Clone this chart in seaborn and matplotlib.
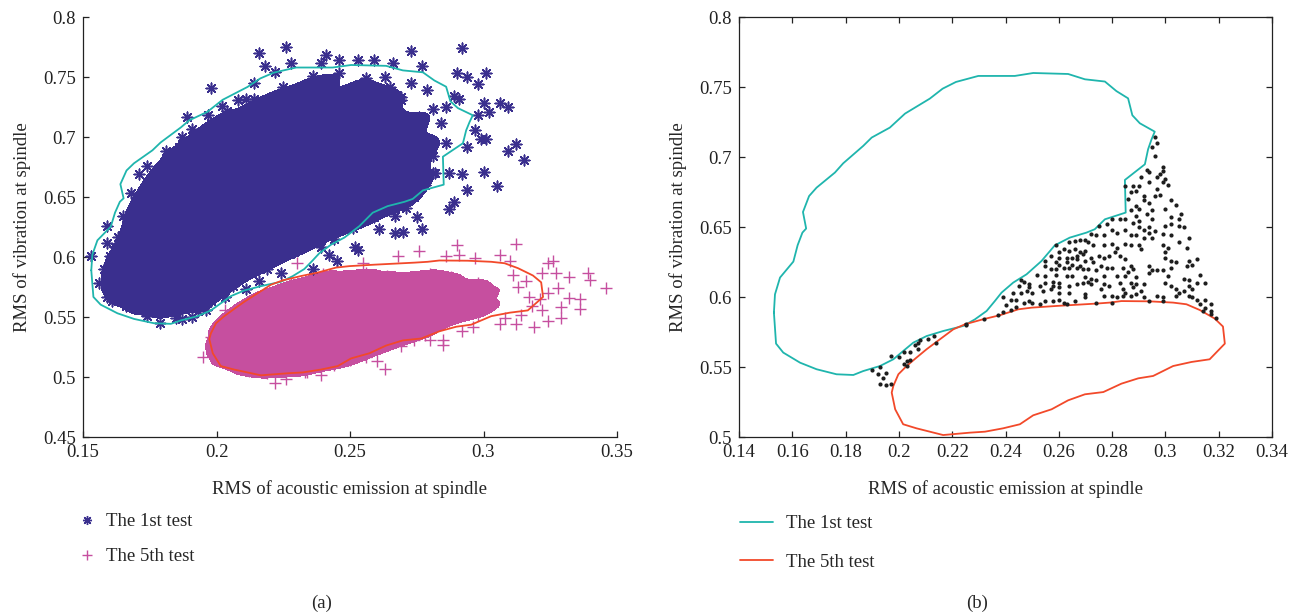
import numpy as np
import matplotlib
matplotlib.use("Agg")
import matplotlib.pyplot as plt
from matplotlib.colors import ListedColormap
from matplotlib.lines import Line2D
import seaborn as sns

sns.set_style("ticks")
plt.rcParams['font.family'] = ['Liberation Serif', 'DejaVu Serif']

BLUE = "#3a2f8e"
PINK = "#c64f9f"
CYAN = "#1fb5ad"
RED = "#f2492a"
DOT = "#1e1e1e"

# ---------------- data ----------------
# contour of the 1st test (closed polygon)
contour_1st = [
    (0.1531, 0.5889), (0.1535, 0.6019), (0.1554, 0.6139), (0.1604, 0.6253), (0.1620, 0.6370),
    (0.1638, 0.6460), (0.1652, 0.6489), (0.1640, 0.6607), (0.1663, 0.6721), (0.1691, 0.6781),
    (0.1760, 0.6889), (0.1791, 0.6955), (0.1866, 0.7079), (0.1898, 0.7139), (0.1966, 0.7210),
    (0.2023, 0.7310), (0.2116, 0.7417), (0.2164, 0.7488), (0.2214, 0.7536), (0.2298, 0.7579),
    (0.2435, 0.7579), (0.2504, 0.7600), (0.2635, 0.7593), (0.2698, 0.7555), (0.2773, 0.7539),
    (0.2816, 0.7471), (0.2860, 0.7419), (0.2876, 0.7298), (0.2904, 0.7241), (0.2960, 0.7181),
    (0.2948, 0.7126), (0.2935, 0.7055), (0.2923, 0.6948), (0.2848, 0.6836), (0.2851, 0.6603),
    (0.2773, 0.6555), (0.2735, 0.6484), (0.2704, 0.6460), (0.2641, 0.6424), (0.2585, 0.6369),
    (0.2535, 0.6257), (0.2479, 0.6162), (0.2429, 0.6103), (0.2385, 0.6031), (0.2360, 0.5971),
    (0.2329, 0.5900), (0.2285, 0.5840), (0.2241, 0.5793), (0.2166, 0.5757), (0.2104, 0.5721),
    (0.2054, 0.5674), (0.2016, 0.5614), (0.1979, 0.5555), (0.1929, 0.5507), (0.1866, 0.5471),
    (0.1829, 0.5443), (0.1766, 0.5448), (0.1691, 0.5484), (0.1629, 0.5531), (0.1566, 0.5603),
    (0.1539, 0.5667), (0.1531, 0.5889),
]
# contour of the 5th test (closed polygon)
contour_5th = [
    (0.2248, 0.5805), (0.2204, 0.5769), (0.2154, 0.5698), (0.2104, 0.5627), (0.2066, 0.5567),
    (0.2029, 0.5507), (0.1998, 0.5448), (0.1979, 0.5364), (0.1973, 0.5317), (0.1986, 0.5198),
    (0.2016, 0.5091), (0.2066, 0.5062), (0.2166, 0.5014), (0.2266, 0.5031), (0.2323, 0.5038),
    (0.2391, 0.5062), (0.2454, 0.5091), (0.2504, 0.5155), (0.2573, 0.5198), (0.2635, 0.5262),
    (0.2698, 0.5305), (0.2767, 0.5321), (0.2835, 0.5381), (0.2898, 0.5419), (0.2954, 0.5436),
    (0.3029, 0.5507), (0.3098, 0.5536), (0.3166, 0.5555), (0.3223, 0.5667), (0.3216, 0.5789),
    (0.3185, 0.5846), (0.3129, 0.5907), (0.3079, 0.5948), (0.3029, 0.5960), (0.2941, 0.5969),
    (0.2835, 0.5971), (0.2791, 0.5960), (0.2741, 0.5953), (0.2591, 0.5936), (0.2498, 0.5924),
    (0.2448, 0.5912), (0.2379, 0.5870), (0.2316, 0.5841), (0.2248, 0.5805),
]

# 1st test samples (estimated), sparse outskirts of the cloud
test1_sparse = [
    (0.216, 0.770), (0.226, 0.775), (0.198, 0.741), (0.189, 0.717), (0.197, 0.718), (0.202, 0.726),
    (0.228, 0.762), (0.218, 0.759), (0.222, 0.754), (0.187, 0.700), (0.191, 0.707), (0.181, 0.688),
    (0.174, 0.676), (0.171, 0.669), (0.168, 0.653), (0.171, 0.638), (0.165, 0.634), (0.159, 0.626),
    (0.163, 0.617), (0.208, 0.731), (0.211, 0.732), (0.214, 0.745), (0.239, 0.762), (0.241, 0.768),
    (0.292, 0.774), (0.273, 0.772), (0.277, 0.759), (0.290, 0.753), (0.294, 0.750), (0.301, 0.753),
    (0.298, 0.744), (0.289, 0.734), (0.291, 0.732), (0.286, 0.725), (0.300, 0.728), (0.306, 0.728),
    (0.309, 0.725), (0.302, 0.721), (0.298, 0.718), (0.297, 0.706), (0.299, 0.698), (0.301, 0.698),
    (0.294, 0.692), (0.312, 0.694), (0.309, 0.688), (0.315, 0.681), (0.287, 0.670), (0.292, 0.669),
    (0.300, 0.671), (0.305, 0.659), (0.294, 0.656), (0.289, 0.646), (0.287, 0.640), (0.275, 0.633),
    (0.267, 0.634), (0.277, 0.623), (0.270, 0.621), (0.267, 0.620), (0.261, 0.623), (0.251, 0.624),
    (0.254, 0.631), (0.244, 0.615), (0.239, 0.608), (0.252, 0.608),
    (0.273, 0.745), (0.279, 0.739), (0.281, 0.723), (0.284, 0.712), (0.286, 0.695), (0.281, 0.684),
    (0.282, 0.670), (0.275, 0.659), (0.269, 0.653), (0.263, 0.648), (0.256, 0.640), (0.246, 0.631),
    (0.241, 0.623), (0.235, 0.615), (0.275, 0.698), (0.269, 0.676), (0.276, 0.709), (0.269, 0.731),
    (0.263, 0.750), (0.253, 0.764), (0.259, 0.764), (0.266, 0.762), (0.246, 0.764),
    (0.153, 0.601), (0.156, 0.578), (0.159, 0.567), (0.161, 0.563), (0.166, 0.559), (0.171, 0.558),
    (0.174, 0.551), (0.179, 0.545), (0.185, 0.549), (0.191, 0.550), (0.187, 0.548), (0.158, 0.590),
    (0.160, 0.601), (0.159, 0.612), (0.162, 0.608), (0.203, 0.567), (0.211, 0.573), (0.216, 0.580),
    (0.224, 0.587), (0.242, 0.602), (0.196, 0.556), (0.206, 0.576), (0.214, 0.590), (0.221, 0.598),
    (0.245, 0.597), (0.236, 0.590), (0.253, 0.606),
]
# 1st test samples (estimated), saturated core of the cloud
test1_dense = [
    (0.172, 0.556), (0.179, 0.553), (0.185, 0.558), (0.193, 0.555),
    (0.163, 0.564), (0.170, 0.561), (0.176, 0.566), (0.184, 0.562), (0.189, 0.566), (0.198, 0.563),
    (0.160, 0.573), (0.167, 0.570), (0.174, 0.575), (0.181, 0.571), (0.188, 0.574), (0.195, 0.571), (0.204, 0.575),
    (0.159, 0.582), (0.166, 0.579), (0.172, 0.584), (0.180, 0.581), (0.186, 0.578), (0.194, 0.584),
    (0.201, 0.579), (0.209, 0.583),
    (0.161, 0.592), (0.168, 0.588), (0.175, 0.593), (0.183, 0.590), (0.189, 0.587), (0.197, 0.592),
    (0.204, 0.589), (0.212, 0.593), (0.219, 0.590),
    (0.162, 0.600), (0.170, 0.603), (0.177, 0.598), (0.184, 0.602), (0.192, 0.599), (0.198, 0.603),
    (0.207, 0.600), (0.214, 0.597), (0.222, 0.602), (0.229, 0.604),
    (0.164, 0.611), (0.170, 0.608), (0.178, 0.613), (0.185, 0.610), (0.193, 0.607), (0.201, 0.612),
    (0.208, 0.609), (0.217, 0.613), (0.224, 0.609), (0.231, 0.612), (0.238, 0.613),
    (0.166, 0.622), (0.174, 0.618), (0.180, 0.623), (0.188, 0.620), (0.195, 0.617), (0.202, 0.622),
    (0.211, 0.619), (0.218, 0.623), (0.227, 0.620), (0.234, 0.617), (0.241, 0.622), (0.248, 0.624),
    (0.167, 0.632), (0.176, 0.628), (0.182, 0.633), (0.190, 0.629), (0.198, 0.627), (0.205, 0.632),
    (0.213, 0.628), (0.221, 0.633), (0.230, 0.630), (0.237, 0.627), (0.245, 0.632), (0.252, 0.628), (0.259, 0.633),
    (0.169, 0.642), (0.178, 0.638), (0.185, 0.643), (0.193, 0.640), (0.199, 0.637), (0.208, 0.642),
    (0.216, 0.638), (0.225, 0.643), (0.232, 0.639), (0.240, 0.637), (0.248, 0.642), (0.257, 0.639),
    (0.264, 0.643), (0.271, 0.641),
    (0.172, 0.652), (0.179, 0.648), (0.188, 0.653), (0.195, 0.649), (0.204, 0.647), (0.211, 0.652),
    (0.219, 0.648), (0.228, 0.653), (0.235, 0.650), (0.243, 0.647), (0.252, 0.652), (0.259, 0.648),
    (0.266, 0.653), (0.274, 0.650),
    (0.174, 0.662), (0.183, 0.658), (0.190, 0.663), (0.199, 0.660), (0.206, 0.657), (0.215, 0.662),
    (0.222, 0.658), (0.231, 0.663), (0.238, 0.659), (0.247, 0.657), (0.254, 0.662), (0.263, 0.658),
    (0.270, 0.663), (0.278, 0.660),
    (0.178, 0.672), (0.185, 0.668), (0.194, 0.673), (0.201, 0.669), (0.210, 0.667), (0.217, 0.672),
    (0.226, 0.668), (0.233, 0.673), (0.242, 0.670), (0.249, 0.667), (0.258, 0.672), (0.265, 0.668),
    (0.274, 0.673), (0.281, 0.670),
    (0.181, 0.682), (0.190, 0.678), (0.197, 0.683), (0.206, 0.680), (0.213, 0.677), (0.222, 0.682),
    (0.229, 0.678), (0.238, 0.683), (0.245, 0.679), (0.254, 0.677), (0.261, 0.682), (0.270, 0.678), (0.277, 0.683),
    (0.186, 0.692), (0.193, 0.688), (0.202, 0.693), (0.209, 0.689), (0.218, 0.687), (0.225, 0.692),
    (0.234, 0.688), (0.241, 0.693), (0.250, 0.690), (0.257, 0.687), (0.266, 0.692), (0.273, 0.688), (0.281, 0.693),
    (0.192, 0.702), (0.200, 0.698), (0.207, 0.703), (0.216, 0.700), (0.223, 0.697), (0.232, 0.702),
    (0.239, 0.698), (0.248, 0.703), (0.255, 0.699), (0.264, 0.697), (0.271, 0.702), (0.279, 0.698),
    (0.198, 0.712), (0.205, 0.708), (0.214, 0.713), (0.221, 0.709), (0.230, 0.707), (0.237, 0.712),
    (0.246, 0.708), (0.253, 0.713), (0.262, 0.710), (0.269, 0.707), (0.277, 0.712),
    (0.204, 0.722), (0.213, 0.718), (0.220, 0.723), (0.229, 0.719), (0.236, 0.717), (0.245, 0.722),
    (0.252, 0.718), (0.261, 0.723), (0.268, 0.719), (0.276, 0.717),
    (0.214, 0.732), (0.221, 0.728), (0.230, 0.733), (0.237, 0.729), (0.246, 0.727), (0.253, 0.732),
    (0.262, 0.728), (0.269, 0.733),
    (0.225, 0.742), (0.234, 0.738), (0.241, 0.743), (0.250, 0.739), (0.257, 0.737), (0.265, 0.742),
    (0.236, 0.751), (0.246, 0.753), (0.256, 0.749),
]

# 5th test samples (estimated), sparse outskirts
test5_sparse = [
    (0.195, 0.517), (0.198, 0.533), (0.203, 0.556), (0.209, 0.558), (0.222, 0.495), (0.226, 0.498),
    (0.199, 0.526), (0.201, 0.515), (0.230, 0.595), (0.290, 0.610), (0.312, 0.611), (0.276, 0.605),
    (0.268, 0.601), (0.286, 0.601), (0.291, 0.602), (0.297, 0.599), (0.306, 0.602), (0.310, 0.597),
    (0.324, 0.595), (0.326, 0.597), (0.322, 0.587), (0.327, 0.587), (0.332, 0.583), (0.339, 0.587),
    (0.340, 0.581), (0.346, 0.574), (0.328, 0.574), (0.332, 0.566), (0.336, 0.565), (0.336, 0.557),
    (0.329, 0.558), (0.329, 0.549), (0.324, 0.547), (0.322, 0.556), (0.319, 0.542), (0.312, 0.544),
    (0.306, 0.544), (0.296, 0.542), (0.292, 0.538), (0.285, 0.531), (0.285, 0.527), (0.280, 0.531),
    (0.274, 0.531), (0.269, 0.526), (0.263, 0.507), (0.260, 0.513), (0.256, 0.517), (0.244, 0.515),
    (0.239, 0.502), (0.234, 0.504), (0.255, 0.595), (0.317, 0.567), (0.321, 0.565), (0.324, 0.570),
    (0.313, 0.575), (0.316, 0.580), (0.311, 0.585), (0.318, 0.559), (0.314, 0.552), (0.308, 0.549),
]
# 5th test samples (estimated), saturated core
test5_dense = [
    (0.212, 0.505), (0.219, 0.503), (0.226, 0.506), (0.233, 0.504),
    (0.203, 0.513), (0.209, 0.510), (0.216, 0.514), (0.223, 0.511), (0.230, 0.509), (0.237, 0.513),
    (0.244, 0.510), (0.250, 0.514),
    (0.201, 0.521), (0.207, 0.518), (0.214, 0.523), (0.221, 0.520), (0.228, 0.517), (0.235, 0.522),
    (0.242, 0.519), (0.249, 0.522), (0.256, 0.520),
    (0.200, 0.529), (0.206, 0.526), (0.213, 0.531), (0.220, 0.528), (0.227, 0.525), (0.234, 0.530),
    (0.241, 0.527), (0.248, 0.531), (0.255, 0.528), (0.262, 0.525), (0.268, 0.530),
    (0.201, 0.538), (0.208, 0.535), (0.215, 0.539), (0.222, 0.536), (0.229, 0.533), (0.236, 0.538),
    (0.243, 0.535), (0.250, 0.539), (0.257, 0.536), (0.264, 0.533), (0.271, 0.538), (0.278, 0.535),
    (0.203, 0.546), (0.210, 0.543), (0.217, 0.547), (0.224, 0.544), (0.231, 0.541), (0.238, 0.546),
    (0.245, 0.543), (0.252, 0.547), (0.259, 0.544), (0.266, 0.541), (0.273, 0.546), (0.280, 0.543), (0.287, 0.547),
    (0.207, 0.554), (0.214, 0.551), (0.221, 0.555), (0.228, 0.552), (0.235, 0.549), (0.242, 0.554),
    (0.249, 0.551), (0.256, 0.555), (0.263, 0.552), (0.270, 0.549), (0.277, 0.554), (0.284, 0.551),
    (0.291, 0.555), (0.298, 0.552),
    (0.212, 0.562), (0.219, 0.559), (0.226, 0.563), (0.233, 0.560), (0.240, 0.557), (0.247, 0.562),
    (0.254, 0.559), (0.261, 0.563), (0.268, 0.560), (0.275, 0.557), (0.282, 0.562), (0.289, 0.559),
    (0.296, 0.563), (0.303, 0.560),
    (0.218, 0.570), (0.225, 0.567), (0.232, 0.571), (0.239, 0.568), (0.246, 0.565), (0.253, 0.570),
    (0.260, 0.567), (0.267, 0.571), (0.274, 0.568), (0.281, 0.565), (0.288, 0.570), (0.295, 0.567),
    (0.302, 0.571),
    (0.228, 0.578), (0.235, 0.575), (0.242, 0.579), (0.249, 0.576), (0.256, 0.573), (0.263, 0.578),
    (0.270, 0.575), (0.277, 0.579), (0.284, 0.576), (0.291, 0.573), (0.298, 0.578),
    (0.240, 0.586), (0.248, 0.583), (0.256, 0.587), (0.264, 0.584), (0.272, 0.582), (0.280, 0.586),
    (0.288, 0.583),
]

# samples of panel (b) lying outside both contours
gap_points = [
    (0.296, 0.714), (0.297, 0.710), (0.295, 0.707), (0.296, 0.701), (0.299, 0.693), (0.299, 0.690),
    (0.298, 0.688), (0.293, 0.691), (0.294, 0.689), (0.297, 0.686), (0.300, 0.684), (0.299, 0.682),
    (0.301, 0.680), (0.294, 0.682), (0.291, 0.686), (0.290, 0.679), (0.288, 0.679), (0.285, 0.679),
    (0.289, 0.676), (0.287, 0.675), (0.297, 0.677), (0.298, 0.673), (0.296, 0.672), (0.302, 0.669),
    (0.286, 0.670), (0.292, 0.672), (0.292, 0.669), (0.294, 0.667), (0.289, 0.665), (0.287, 0.662),
    (0.290, 0.663), (0.295, 0.662), (0.293, 0.659), (0.289, 0.658), (0.304, 0.666), (0.300, 0.663),
    (0.302, 0.657), (0.305, 0.656), (0.306, 0.659), (0.295, 0.656), (0.290, 0.654), (0.288, 0.653),
    (0.285, 0.656), (0.283, 0.656), (0.280, 0.656), (0.278, 0.652), (0.280, 0.648), (0.282, 0.646),
    (0.285, 0.648), (0.290, 0.650), (0.292, 0.648), (0.294, 0.650), (0.294, 0.646), (0.296, 0.647),
    (0.300, 0.651), (0.302, 0.652), (0.305, 0.651), (0.307, 0.650), (0.299, 0.645), (0.302, 0.644),
    (0.292, 0.642), (0.295, 0.642), (0.287, 0.644), (0.289, 0.644), (0.277, 0.644), (0.277, 0.637),
    (0.280, 0.638), (0.282, 0.635), (0.285, 0.638), (0.287, 0.637), (0.290, 0.637), (0.291, 0.634),
    (0.299, 0.637), (0.301, 0.635), (0.305, 0.639), (0.308, 0.635), (0.309, 0.642), (0.277, 0.628),
    (0.279, 0.629), (0.281, 0.632), (0.283, 0.629), (0.285, 0.627), (0.300, 0.632), (0.300, 0.628),
    (0.302, 0.626), (0.304, 0.625), (0.309, 0.626), (0.310, 0.623), (0.312, 0.627), (0.276, 0.622),
    (0.278, 0.621), (0.280, 0.621), (0.284, 0.621), (0.287, 0.622), (0.288, 0.620), (0.294, 0.622),
    (0.295, 0.619), (0.299, 0.619), (0.302, 0.621), (0.308, 0.622), (0.313, 0.616), (0.277, 0.615),
    (0.282, 0.615), (0.285, 0.615), (0.286, 0.618), (0.289, 0.614), (0.294, 0.617), (0.297, 0.619),
    (0.301, 0.615), (0.307, 0.613), (0.309, 0.612), (0.312, 0.610), (0.315, 0.610), (0.277, 0.609),
    (0.279, 0.608), (0.283, 0.610), (0.287, 0.610), (0.289, 0.609), (0.292, 0.609), (0.300, 0.610),
    (0.302, 0.608), (0.309, 0.608), (0.310, 0.606), (0.276, 0.606), (0.284, 0.606), (0.285, 0.603),
    (0.288, 0.607), (0.291, 0.604), (0.304, 0.606), (0.305, 0.603), (0.307, 0.604), (0.277, 0.601),
    (0.280, 0.601), (0.282, 0.600), (0.284, 0.601), (0.287, 0.601), (0.289, 0.602), (0.292, 0.600),
    (0.297, 0.601), (0.299, 0.600), (0.304, 0.601), (0.309, 0.601), (0.310, 0.600), (0.312, 0.598),
    (0.315, 0.598), (0.280, 0.596), (0.294, 0.597), (0.299, 0.597), (0.313, 0.595), (0.317, 0.595),
    (0.315, 0.592), (0.317, 0.590), (0.317, 0.588), (0.319, 0.585), (0.314, 0.590),
    (0.275, 0.651), (0.272, 0.645), (0.274, 0.644), (0.270, 0.641), (0.268, 0.641), (0.266, 0.640),
    (0.264, 0.639), (0.271, 0.639), (0.273, 0.637), (0.259, 0.637), (0.262, 0.634), (0.260, 0.632),
    (0.264, 0.633), (0.266, 0.634), (0.268, 0.632), (0.269, 0.631), (0.270, 0.633), (0.272, 0.628),
    (0.275, 0.629), (0.257, 0.629), (0.260, 0.628), (0.263, 0.628), (0.265, 0.628), (0.267, 0.629),
    (0.267, 0.627), (0.270, 0.626), (0.255, 0.626), (0.259, 0.625), (0.260, 0.623), (0.263, 0.625),
    (0.265, 0.623), (0.268, 0.622), (0.273, 0.625), (0.255, 0.622), (0.257, 0.620), (0.259, 0.620),
    (0.262, 0.621), (0.264, 0.621), (0.267, 0.621), (0.269, 0.620), (0.271, 0.620), (0.274, 0.619),
    (0.252, 0.616), (0.255, 0.615), (0.259, 0.616), (0.263, 0.615), (0.265, 0.615), (0.270, 0.614),
    (0.272, 0.613), (0.274, 0.612), (0.246, 0.612), (0.247, 0.611), (0.249, 0.609), (0.245, 0.608),
    (0.249, 0.607), (0.253, 0.608), (0.255, 0.610), (0.258, 0.611), (0.260, 0.610), (0.258, 0.608),
    (0.260, 0.607), (0.264, 0.608), (0.267, 0.609), (0.269, 0.610), (0.271, 0.611), (0.272, 0.609),
    (0.243, 0.603), (0.246, 0.603), (0.248, 0.604), (0.250, 0.603), (0.254, 0.604), (0.257, 0.606),
    (0.260, 0.603), (0.264, 0.603), (0.270, 0.602), (0.239, 0.600), (0.242, 0.598), (0.244, 0.598),
    (0.247, 0.596), (0.249, 0.597), (0.250, 0.596), (0.253, 0.595), (0.255, 0.597), (0.258, 0.597),
    (0.260, 0.598), (0.262, 0.596), (0.263, 0.595), (0.266, 0.597), (0.270, 0.600), (0.274, 0.596),
    (0.240, 0.594), (0.242, 0.591), (0.244, 0.593), (0.239, 0.589), (0.237, 0.587), (0.232, 0.584),
    (0.225, 0.581),
    (0.190, 0.548), (0.192, 0.545), (0.193, 0.550), (0.193, 0.538), (0.195, 0.537), (0.194, 0.542),
    (0.195, 0.546), (0.197, 0.538), (0.197, 0.558), (0.200, 0.557), (0.202, 0.552), (0.203, 0.554),
    (0.203, 0.551), (0.204, 0.555), (0.202, 0.561), (0.204, 0.561), (0.206, 0.566), (0.207, 0.563),
    (0.208, 0.569), (0.207, 0.567), (0.211, 0.570), (0.213, 0.572), (0.214, 0.567), (0.225, 0.580),
]

series_labels = ["The 1st test", "The 5th test"]
x_label = "RMS of acoustic emission at spindle"
y_label = "RMS of vibration at spindle"
xticks_a = [0.15, 0.2, 0.25, 0.3, 0.35]
xticklabels_a = ["0.15", "0.2", "0.25", "0.3", "0.35"]
yticks_a = [0.45, 0.5, 0.55, 0.6, 0.65, 0.7, 0.75, 0.8]
yticklabels_a = ["0.45", "0.5", "0.55", "0.6", "0.65", "0.7", "0.75", "0.8"]
xticks_b = [0.14, 0.16, 0.18, 0.2, 0.22, 0.24, 0.26, 0.28, 0.3, 0.32, 0.34]
xticklabels_b = ["0.14", "0.16", "0.18", "0.2", "0.22", "0.24", "0.26", "0.28", "0.3", "0.32", "0.34"]
yticks_b = [0.5, 0.55, 0.6, 0.65, 0.7, 0.75, 0.8]
yticklabels_b = ["0.5", "0.55", "0.6", "0.65", "0.7", "0.75", "0.8"]

# ---------------- drawing ----------------
c1 = np.array(contour_1st)
c5 = np.array(contour_5th)
d1 = np.array(test1_dense)
d5 = np.array(test5_dense)
p1 = np.array(test1_sparse + test1_dense)
p5 = np.array(test5_sparse + test5_dense)
pg = np.array(gap_points)

W, H = 1302, 616
fig = plt.figure(figsize=(W / 100, H / 100), dpi=100)
ax_a = fig.add_axes([83 / W, 1 - 437 / H, 534 / W, 420 / H])
ax_b = fig.add_axes([739 / W, 1 - 437 / H, 533 / W, 420 / H])

FS = 13.5
ASTER = (8, 2, 0)

# panel (a): saturated cores rendered as density fill, then all samples as markers
sns.kdeplot(x=d1[:, 0], y=d1[:, 1], fill=True, levels=[0.1, 1.0], bw_adjust=0.42,
            cmap=ListedColormap([BLUE]), ax=ax_a, zorder=1)
sns.kdeplot(x=d5[:, 0], y=d5[:, 1], fill=True, levels=[0.07, 1.0], bw_adjust=0.45,
            cmap=ListedColormap([PINK]), ax=ax_a, zorder=1)
sns.scatterplot(x=p1[:, 0], y=p1[:, 1], marker=ASTER, s=58, color=BLUE, linewidth=1.15,
                ax=ax_a, zorder=2)
sns.scatterplot(x=p5[:, 0], y=p5[:, 1], marker="+", s=65, color=PINK, linewidth=1.0,
                ax=ax_a, zorder=3)
sns.lineplot(x=c1[:, 0], y=c1[:, 1], sort=False, estimator=None, color=CYAN, linewidth=1.3,
             ax=ax_a, zorder=4)
sns.lineplot(x=c5[:, 0], y=c5[:, 1], sort=False, estimator=None, color=RED, linewidth=1.3,
             ax=ax_a, zorder=4)

# panel (b)
sns.lineplot(x=c1[:, 0], y=c1[:, 1], sort=False, estimator=None, color=CYAN, linewidth=1.3,
             ax=ax_b, zorder=3)
sns.lineplot(x=c5[:, 0], y=c5[:, 1], sort=False, estimator=None, color=RED, linewidth=1.3,
             ax=ax_b, zorder=3)
sns.scatterplot(x=pg[:, 0], y=pg[:, 1], marker="o", s=9, color=DOT, linewidth=0,
                ax=ax_b, zorder=4)

# axes styling
for ax, xt, xtl, yt, ytl, xl, yl in [
    (ax_a, xticks_a, xticklabels_a, yticks_a, yticklabels_a, (0.15, 0.35), (0.45, 0.8)),
    (ax_b, xticks_b, xticklabels_b, yticks_b, yticklabels_b, (0.14, 0.34), (0.5, 0.8)),
]:
    ax.set_xlim(*xl)
    ax.set_ylim(*yl)
    ax.set_xticks(xt)
    ax.set_xticklabels(xtl)
    ax.set_yticks(yt)
    ax.set_yticklabels(ytl)
    ax.set_xlabel(x_label, fontsize=FS, labelpad=14)
    ax.set_ylabel(y_label, fontsize=FS, labelpad=9)
    for sp in ax.spines.values():
        sp.set_linewidth(0.9)
        sp.set_color("#222222")
    ax.set_facecolor("white")

ax_a.spines["top"].set_visible(False)
ax_a.spines["right"].set_visible(False)
ax_a.tick_params(axis="both", direction="in", length=4, width=0.9, labelsize=FS, pad=5,
                 colors="#222222", top=False, right=False)
ax_b.tick_params(axis="both", direction="in", length=4, width=0.9, labelsize=FS, pad=5,
                 colors="#222222", top=True, right=True)

# legends below the axes
h_a = [Line2D([], [], ls="none", marker=ASTER, color=BLUE, markersize=6.5, mew=1.0),
       Line2D([], [], ls="none", marker="+", color=PINK, markersize=7.5, mew=1.0)]
fig.legend(h_a, series_labels, loc="upper left", bbox_to_anchor=(78 / W, 1 - 513 / H),
           frameon=False, fontsize=FS, handlelength=1.0, handletextpad=0.5,
           labelspacing=0.97, borderpad=0, borderaxespad=0)
h_b = [Line2D([], [], color=CYAN, lw=1.3), Line2D([], [], color=RED, lw=1.3)]
fig.legend(h_b, series_labels, loc="upper left", bbox_to_anchor=(740 / W, 1 - 515 / H),
           frameon=False, fontsize=FS, handlelength=1.75, handletextpad=0.7,
           labelspacing=1.16, borderpad=0, borderaxespad=0)

fig.text(322 / W, 1 - 603 / H, "(a)", ha="center", va="center", fontsize=FS)
fig.text(977 / W, 1 - 603 / H, "(b)", ha="center", va="center", fontsize=FS)

fig.savefig("out.png", dpi=100, facecolor="white")
